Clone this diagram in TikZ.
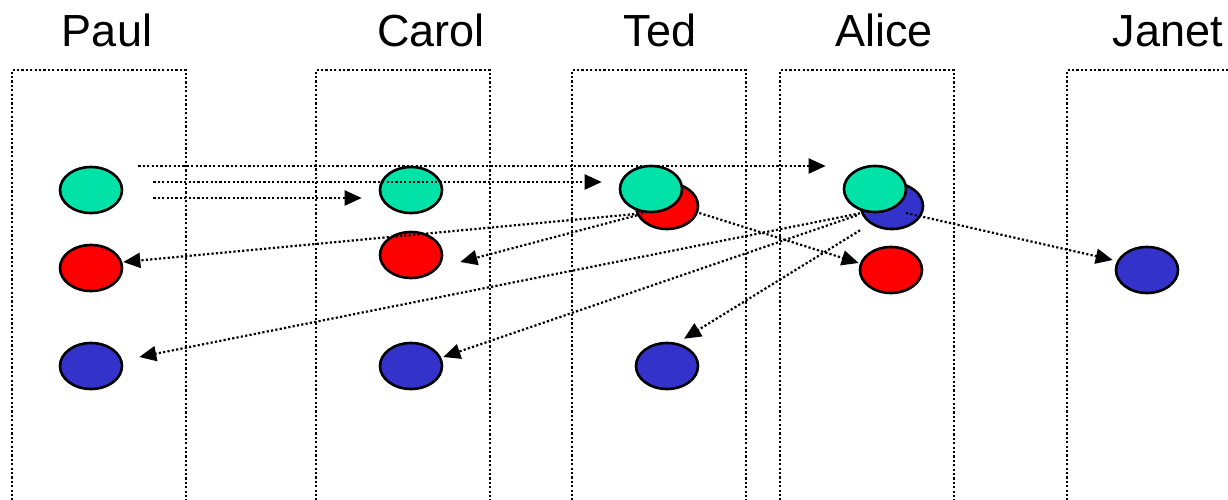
\documentclass[tikz,border=0pt]{standalone}
\usepackage{fontspec}
\setmainfont{Liberation Sans}
\usepackage{xcolor}
\usepackage{tikz}
\usetikzlibrary{positioning, arrows.meta, shapes.geometric}

\definecolor{tokgreen}{RGB}{0,226,168}
\definecolor{tokred}{RGB}{255,0,0}
\definecolor{tokblue}{RGB}{51,51,204}

\begin{document}
\begin{tikzpicture}[
    x=1pt, y=-1pt,
    every node/.style={font=\fontsize{45}{54}\selectfont},
    lane/.style={rectangle, draw=black, line width=2.4pt, dash pattern=on 2.2pt off 2.2pt, minimum width=174pt, minimum height=460pt, inner sep=0pt},
    token/.style={ellipse, draw=black, line width=2.6pt, minimum width=62pt, minimum height=46pt, inner sep=0pt},
    gtok/.style={token, fill=tokgreen},
    rtok/.style={token, fill=tokred},
    btok/.style={token, fill=tokblue},
    msg/.style={draw=black, line width=2.2pt, dash pattern=on 2.2pt off 2.2pt, -{Triangle[length=17pt, width=15pt]}}
]
\clip (0,0) rectangle (1228,500);

% Lanes
\node[lane] (paulLane) at (99,300) {};
\node[lane] (carolLane) at (403,300) {};
\node[lane] (tedLane) at (659,300) {};
\node[lane] (aliceLane) at (867,300) {};
\node[lane] (janetLane) at (1154,300) {};

% Names
\node[anchor=base] (paulName) at (107,47) {Paul};
\node[anchor=base] (carolName) at (431,47) {Carol};
\node[anchor=base] (tedName) at (660,47) {Ted};
\node[anchor=base] (aliceName) at (884,47) {Alice};
\node[anchor=base] (janetName) at (1168,47) {Janet};

% Tokens
\node[gtok] (paulG) at (91,190) {};
\node[rtok] (paulR) at (91,268) {};
\node[btok] (paulB) at (91,366) {};
\node[gtok] (carolG) at (411,190) {};
\node[rtok] (carolR) at (411,255) {};
\node[btok] (carolB) at (411,366) {};
\node[rtok] (tedR) at (667,206) {};
\node[gtok] (tedG) at (651,189) {};
\node[btok] (tedB) at (667,366) {};
\node[btok] (aliceB) at (892,206) {};
\node[gtok] (aliceG) at (875,189) {};
\node[rtok] (aliceR) at (891,270) {};
\node[btok] (janetB) at (1147,270) {};

% Arrows
\draw[msg] ([shift={(15pt,24pt)}]paulG.east) -- ([shift={(-17pt,23pt)}]aliceG.west);
\draw[msg] ([shift={(30pt,8pt)}]paulG.east) -- ([shift={(-17pt,7pt)}]tedG.west);
\draw[msg] ([shift={(30pt,-8pt)}]paulG.east) -- ([shift={(-17pt,-8pt)}]carolG.west);
\draw[msg] ([xshift=-8pt]tedG.south) -- ([yshift=6pt]paulR.east);
\draw[msg] ([shift={(-14pt,-2pt)}]tedG.south) -- ([shift={(17pt,-7pt)}]carolR.east);
\draw[msg] ([yshift=-7pt]tedR.east) -- ([yshift=7pt]aliceR.west);
\draw[msg] ([xshift=-15pt]aliceG.south) -- ([shift={(16pt,9pt)}]paulB.east);
\draw[msg] ([shift={(-18pt,-2pt)}]aliceG.south) -- ([yshift=9pt]carolB.east);
\draw[msg] ([shift={(-15pt,-17pt)}]aliceG.south) -- ([shift={(17pt,3pt)}]tedB.north);
\draw[msg] ([shift={(14pt,-7pt)}]aliceB.center) -- ([shift={(-2pt,10pt)}]janetB.west);

\end{tikzpicture}
\end{document}
